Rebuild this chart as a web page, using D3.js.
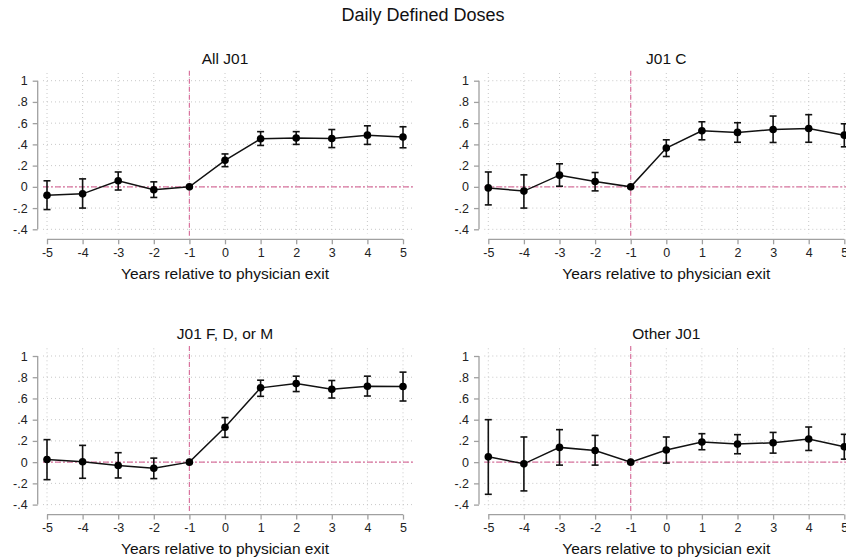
<!DOCTYPE html>
<html>
<head>
<meta charset="utf-8">
<script src="https://cdn.jsdelivr.net/npm/d3@7"></script>
<style>
  body { margin: 0; background: #fff; }
  svg { display: block; font-family: "Liberation Sans", Arial, sans-serif; }
</style>
</head>
<body>
<div id="chart"></div>
<script>
// event time
var years = [-5, -4, -3, -2, -1, 0, 1, 2, 3, 4, 5];
var yTicks = [-0.4, -0.2, 0, 0.2, 0.4, 0.6, 0.8, 1];
var yTickLabels = ["-.4", "-.2", "0", ".2", ".4", ".6", ".8", "1"];
var panelTitles = ["All J01", "J01 C", "J01 F, D, or M", "Other J01"];

// point estimates and 95% CI
var allCoef = [-0.08, -0.066, 0.057, -0.028, 0, 0.25, 0.453, 0.46, 0.456, 0.487, 0.47];
var allLo   = [-0.214, -0.20, -0.03, -0.10, 0, 0.19, 0.39, 0.40, 0.37, 0.40, 0.368];
var allHi   = [0.057, 0.075, 0.14, 0.047, 0, 0.31, 0.52, 0.52, 0.54, 0.575, 0.566];

var cCoef = [-0.01, -0.04, 0.11, 0.05, 0, 0.365, 0.528, 0.513, 0.54, 0.55, 0.487];
var cLo   = [-0.17, -0.20, 0.006, -0.038, 0, 0.286, 0.443, 0.42, 0.418, 0.42, 0.377];
var cHi   = [0.14, 0.113, 0.217, 0.135, 0, 0.443, 0.613, 0.604, 0.667, 0.68, 0.594];

var fdmCoef = [0.025, 0.003, -0.032, -0.057, 0, 0.329, 0.70, 0.74, 0.687, 0.715, 0.712];
var fdmLo   = [-0.165, -0.152, -0.149, -0.155, 0, 0.234, 0.62, 0.665, 0.604, 0.623, 0.576];
var fdmHi   = [0.212, 0.158, 0.089, 0.038, 0, 0.42, 0.772, 0.81, 0.769, 0.81, 0.848];

var otherCoef = [0.05, -0.016, 0.139, 0.11, 0, 0.114, 0.19, 0.17, 0.183, 0.218, 0.145];
var otherLo   = [-0.303, -0.271, -0.028, -0.028, 0, -0.009, 0.117, 0.079, 0.085, 0.11, 0.028];
var otherHi   = [0.40, 0.237, 0.306, 0.252, 0, 0.237, 0.268, 0.259, 0.28, 0.331, 0.262];

var panelCoef = [allCoef, cCoef, fdmCoef, otherCoef];
var panelLo = [allLo, cLo, fdmLo, otherLo];
var panelHi = [allHi, cHi, fdmHi, otherHi];

var W = 846, H = 559;
var pink = "#d9749f";
var axisGray = "#a0a0a0";

var svg = d3.select("#chart").append("svg")
    .attr("width", W)
    .attr("height", H);

svg.append("text")
    .attr("x", W / 2)
    .attr("y", 21)
    .attr("text-anchor", "middle")
    .attr("font-size", 18)
    .attr("fill", "#111")
    .text("Daily Defined Doses");

// offset between panels
var dx = 441.3, dy = 275.3;

function drawPanel(i) {
    var ox = (i % 2) * dx;
    var oy = Math.floor(i / 2) * dy;
    var g = svg.append("g").attr("transform", "translate(" + ox + "," + oy + ")");

    var x = d3.scaleLinear().domain([-5, 5]).range([47, 403]);
    var y = d3.scaleLinear().domain([-0.4, 1]).range([229.3, 80.7]);

    var gridL = 43, gridR = 413, gridT = 73, gridB = 233.5;

    // dotted grid
    g.selectAll(".hgrid").data(yTicks).enter().append("line")
        .attr("x1", gridL).attr("x2", gridR)
        .attr("y1", function(d) { return y(d); })
        .attr("y2", function(d) { return y(d); })
        .attr("stroke", "#c8c8c8")
        .attr("stroke-width", 1)
        .attr("stroke-dasharray", "1,3");
    g.selectAll(".vgrid").data(years).enter().append("line")
        .attr("y1", gridT).attr("y2", gridB)
        .attr("x1", function(d) { return x(d); })
        .attr("x2", function(d) { return x(d); })
        .attr("stroke", "#c8c8c8")
        .attr("stroke-width", 1)
        .attr("stroke-dasharray", "1,3");

    // reference lines
    g.append("line")
        .attr("x1", gridL).attr("x2", gridR)
        .attr("y1", y(0)).attr("y2", y(0))
        .attr("stroke", pink)
        .attr("stroke-width", 1.2)
        .attr("stroke-dasharray", "6,2,2,2");
    g.append("line")
        .attr("x1", x(-1)).attr("x2", x(-1))
        .attr("y1", 70.7).attr("y2", 239.3)
        .attr("stroke", pink)
        .attr("stroke-width", 1.2)
        .attr("stroke-dasharray", "5,3");

    // y axis
    var yAxis = d3.axisLeft(y)
        .tickValues(yTicks)
        .tickSize(5)
        .tickPadding(5)
        .tickFormat(function(d, k) { return yTickLabels[k]; });
    var ya = g.append("g")
        .attr("transform", "translate(37.7,0)")
        .call(yAxis);
    ya.select(".domain").attr("stroke", axisGray).attr("stroke-width", 1.3)
        .attr("d", "M0," + y(1) + "V" + y(-0.4));
    ya.selectAll(".tick line").attr("stroke", axisGray).attr("stroke-width", 1.3);
    ya.selectAll(".tick text").attr("font-size", 12.5).attr("fill", "#222")
        .attr("font-family", "Liberation Sans, Arial, sans-serif");

    // x axis, plain hyphen for negatives like the original
    var xAxis = d3.axisBottom(x)
        .tickValues(years)
        .tickSize(5)
        .tickPadding(4)
        .tickFormat(function(d) { return String(d); });
    var xa = g.append("g")
        .attr("transform", "translate(0,239.3)")
        .call(xAxis);
    xa.select(".domain").attr("stroke", axisGray).attr("stroke-width", 1.3)
        .attr("d", "M" + x(-5) + ",0H" + x(5));
    xa.selectAll(".tick line").attr("stroke", axisGray).attr("stroke-width", 1.3);
    xa.selectAll(".tick text").attr("font-size", 12.5).attr("fill", "#222")
        .attr("font-family", "Liberation Sans, Arial, sans-serif");

    g.append("text")
        .attr("x", (x(-5) + x(5)) / 2)
        .attr("y", 279)
        .attr("text-anchor", "middle")
        .attr("font-size", 15.5)
        .attr("fill", "#111")
        .text("Years relative to physician exit");

    g.append("text")
        .attr("x", (x(-5) + x(5)) / 2)
        .attr("y", 63.5)
        .attr("text-anchor", "middle")
        .attr("font-size", 15.5)
        .attr("fill", "#111")
        .text(panelTitles[i]);

    var pts = years.map(function(yr, k) {
        return { yr: yr, c: panelCoef[i][k], lo: panelLo[i][k], hi: panelHi[i][k] };
    });

    // CI bars
    var ci = g.selectAll(".ci").data(pts.filter(function(d) { return d.hi !== d.lo; }))
        .enter().append("g").attr("class", "ci");
    ci.append("line")
        .attr("x1", function(d) { return x(d.yr); })
        .attr("x2", function(d) { return x(d.yr); })
        .attr("y1", function(d) { return y(d.lo); })
        .attr("y2", function(d) { return y(d.hi); })
        .attr("stroke", "#111").attr("stroke-width", 1.6);
    ci.append("line")
        .attr("x1", function(d) { return x(d.yr) - 3.5; })
        .attr("x2", function(d) { return x(d.yr) + 3.5; })
        .attr("y1", function(d) { return y(d.lo); })
        .attr("y2", function(d) { return y(d.lo); })
        .attr("stroke", "#111").attr("stroke-width", 1.6);
    ci.append("line")
        .attr("x1", function(d) { return x(d.yr) - 3.5; })
        .attr("x2", function(d) { return x(d.yr) + 3.5; })
        .attr("y1", function(d) { return y(d.hi); })
        .attr("y2", function(d) { return y(d.hi); })
        .attr("stroke", "#111").attr("stroke-width", 1.6);

    var line = d3.line()
        .x(function(d) { return x(d.yr); })
        .y(function(d) { return y(d.c); });
    g.append("path")
        .datum(pts)
        .attr("d", line)
        .attr("fill", "none")
        .attr("stroke", "#111")
        .attr("stroke-width", 1.5);

    g.selectAll(".pt").data(pts).enter().append("circle")
        .attr("cx", function(d) { return x(d.yr); })
        .attr("cy", function(d) { return y(d.c); })
        .attr("r", 3.8)
        .attr("fill", "#000");
}

for (var i = 0; i < 4; i++) drawPanel(i);
</script>
</body>
</html>
